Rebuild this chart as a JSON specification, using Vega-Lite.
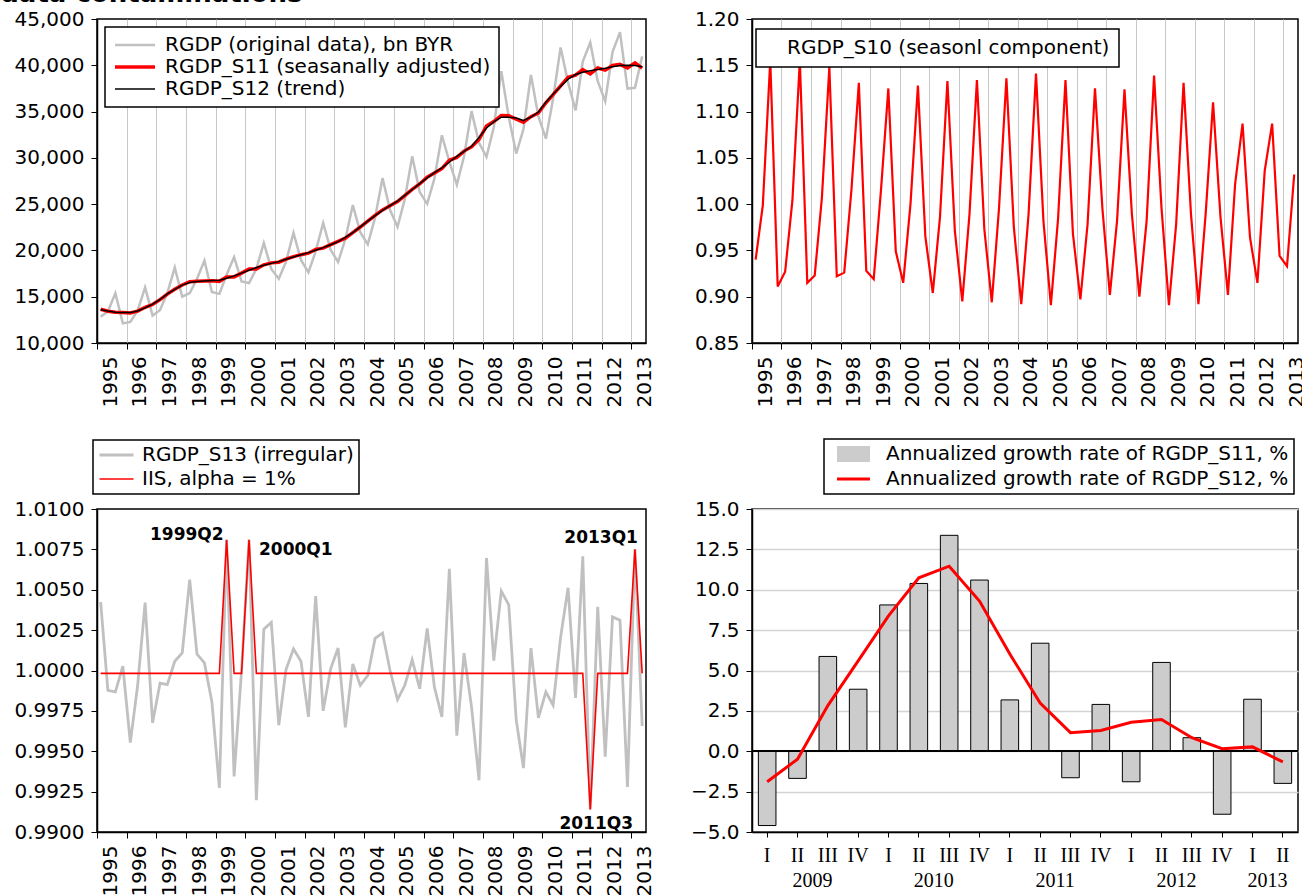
{
  "$schema": "https://vega.github.io/schema/vega-lite/v6.json",
  "background": "white",
  "padding": {"left": 0, "top": -19, "right": 0, "bottom": 0},
  "title": {"text": "data contaminations", "anchor": "start", "fontSize": 26, "fontWeight": "bold", "font": "DejaVu Sans", "color": "black", "offset": 1},
  "config": {
    "font": "DejaVu Sans",
    "view": {"stroke": "black", "strokeWidth": 1.5},
    "axis": {
      "labelFont": "DejaVu Sans", "labelFontSize": 20, "labelColor": "black",
      "domainColor": "black", "domainWidth": 1.5, "tickColor": "black", "tickWidth": 1,
      "tickSize": 6, "labelPadding": 7, "grid": false
    },
    "legend": {
      "labelFont": "DejaVu Sans", "labelFontSize": 20, "labelColor": "black", "labelLimit": 1000,
      "strokeColor": "black", "strokeWidth": 1.5, "fillColor": "white", "symbolType": "stroke"
    }
  },
  "datasets": {
    "q": [
      {"d":"1995-02-15T00:00:00","y":12829,"sa":13648,"tr":13590,"sf":0.940,"ir":1.00424,"iis":0.99982},
      {"d":"1995-05-15T00:00:00","y":13420,"sa":13433,"tr":13450,"sf":0.999,"ir":0.99877,"iis":0.99982},
      {"d":"1995-08-15T00:00:00","y":15375,"sa":13312,"tr":13330,"sf":1.155,"ir":0.99867,"iis":0.99982},
      {"d":"1995-11-15T00:00:00","y":12120,"sa":13304,"tr":13300,"sf":0.911,"ir":1.00027,"iis":0.99982},
      {"d":"1996-02-15T00:00:00","y":12274,"sa":13241,"tr":13300,"sf":0.927,"ir":0.99553,"iis":0.99982},
      {"d":"1996-05-15T00:00:00","y":13492,"sa":13438,"tr":13450,"sf":1.004,"ir":0.99908,"iis":0.99982},
      {"d":"1996-08-15T00:00:00","y":16006,"sa":13858,"tr":13800,"sf":1.155,"ir":1.00420,"iis":0.99982},
      {"d":"1996-11-15T00:00:00","y":12951,"sa":14154,"tr":14200,"sf":0.915,"ir":0.99676,"iis":0.99982},
      {"d":"1997-02-15T00:00:00","y":13558,"sa":14689,"tr":14700,"sf":0.923,"ir":0.99922,"iis":0.99982},
      {"d":"1997-05-15T00:00:00","y":15394,"sa":15287,"tr":15300,"sf":1.007,"ir":0.99912,"iis":0.99982},
      {"d":"1997-08-15T00:00:00","y":18149,"sa":15809,"tr":15800,"sf":1.148,"ir":1.00057,"iis":0.99982},
      {"d":"1997-11-15T00:00:00","y":14999,"sa":16268,"tr":16250,"sf":0.922,"ir":1.00109,"iis":0.99982},
      {"d":"1998-02-15T00:00:00","y":15393,"sa":16623,"tr":16530,"sf":0.926,"ir":1.00563,"iis":0.99982},
      {"d":"1998-05-15T00:00:00","y":16917,"sa":16667,"tr":16650,"sf":1.015,"ir":1.00102,"iis":0.99982},
      {"d":"1998-08-15T00:00:00","y":18897,"sa":16708,"tr":16700,"sf":1.131,"ir":1.00047,"iis":0.99982},
      {"d":"1998-11-15T00:00:00","y":15513,"sa":16717,"tr":16750,"sf":0.928,"ir":0.99805,"iis":0.99982},
      {"d":"1999-02-15T00:00:00","y":15309,"sa":16658,"tr":16780,"sf":0.919,"ir":0.99273,"iis":0.99982},
      {"d":"1999-05-15T00:00:00","y":17378,"sa":17138,"tr":17000,"sf":1.014,"ir":1.00810,"iis":1.00810},
      {"d":"1999-08-15T00:00:00","y":19279,"sa":17137,"tr":17250,"sf":1.125,"ir":0.99344,"iis":0.99982},
      {"d":"1999-11-15T00:00:00","y":16655,"sa":17550,"tr":17550,"sf":0.949,"ir":1.00000,"iis":0.99982},
      {"d":"2000-02-15T00:00:00","y":16474,"sa":18005,"tr":17860,"sf":0.915,"ir":1.00810,"iis":1.00810},
      {"d":"2000-05-15T00:00:00","y":18004,"sa":18004,"tr":18150,"sf":1.000,"ir":0.99197,"iis":0.99982},
      {"d":"2000-08-15T00:00:00","y":20808,"sa":18447,"tr":18400,"sf":1.128,"ir":1.00256,"iis":0.99982},
      {"d":"2000-11-15T00:00:00","y":18002,"sa":18655,"tr":18600,"sf":0.965,"ir":1.00297,"iis":0.99982},
      {"d":"2001-02-15T00:00:00","y":16929,"sa":18726,"tr":18790,"sf":0.904,"ir":0.99662,"iis":0.99982},
      {"d":"2001-05-15T00:00:00","y":18784,"sa":19051,"tr":19050,"sf":0.986,"ir":1.00006,"iis":0.99982},
      {"d":"2001-08-15T00:00:00","y":21896,"sa":19326,"tr":19300,"sf":1.133,"ir":1.00133,"iis":0.99982},
      {"d":"2001-11-15T00:00:00","y":18974,"sa":19541,"tr":19530,"sf":0.971,"ir":1.00057,"iis":0.99982},
      {"d":"2002-02-15T00:00:00","y":17634,"sa":19703,"tr":19760,"sf":0.895,"ir":0.99713,"iis":0.99982},
      {"d":"2002-05-15T00:00:00","y":19891,"sa":20112,"tr":20020,"sf":0.989,"ir":1.00461,"iis":0.99982},
      {"d":"2002-08-15T00:00:00","y":22962,"sa":20249,"tr":20300,"sf":1.134,"ir":0.99750,"iis":0.99982},
      {"d":"2002-11-15T00:00:00","y":20065,"sa":20622,"tr":20620,"sf":0.973,"ir":1.00010,"iis":0.99982},
      {"d":"2003-02-15T00:00:00","y":18755,"sa":20979,"tr":20950,"sf":0.894,"ir":1.00139,"iis":0.99982},
      {"d":"2003-05-15T00:00:00","y":21218,"sa":21325,"tr":21400,"sf":0.995,"ir":0.99648,"iis":0.99982},
      {"d":"2003-08-15T00:00:00","y":24911,"sa":21929,"tr":21920,"sf":1.136,"ir":1.00041,"iis":0.99982},
      {"d":"2003-11-15T00:00:00","y":21966,"sa":22529,"tr":22550,"sf":0.975,"ir":0.99908,"iis":0.99982},
      {"d":"2004-02-15T00:00:00","y":20661,"sa":23163,"tr":23170,"sf":0.892,"ir":0.99969,"iis":0.99982},
      {"d":"2004-05-15T00:00:00","y":23535,"sa":23797,"tr":23750,"sf":0.989,"ir":1.00199,"iis":0.99982},
      {"d":"2004-08-15T00:00:00","y":27813,"sa":24376,"tr":24320,"sf":1.141,"ir":1.00232,"iis":0.99982},
      {"d":"2004-11-15T00:00:00","y":24383,"sa":24830,"tr":24830,"sf":0.982,"ir":1.00000,"iis":0.99982},
      {"d":"2005-02-15T00:00:00","y":22528,"sa":25284,"tr":25330,"sf":0.891,"ir":0.99820,"iis":0.99982},
      {"d":"2005-05-15T00:00:00","y":25511,"sa":25926,"tr":25950,"sf":0.984,"ir":0.99908,"iis":0.99982},
      {"d":"2005-08-15T00:00:00","y":30162,"sa":26598,"tr":26580,"sf":1.134,"ir":1.00066,"iis":0.99982},
      {"d":"2005-11-15T00:00:00","y":26309,"sa":27179,"tr":27210,"sf":0.968,"ir":0.99887,"iis":0.99982},
      {"d":"2006-02-15T00:00:00","y":25037,"sa":27912,"tr":27840,"sf":0.897,"ir":1.00260,"iis":0.99982},
      {"d":"2006-05-15T00:00:00","y":27747,"sa":28371,"tr":28400,"sf":0.978,"ir":0.99898,"iis":0.99982},
      {"d":"2006-08-15T00:00:00","y":32442,"sa":28837,"tr":28920,"sf":1.125,"ir":0.99713,"iis":0.99982},
      {"d":"2006-11-15T00:00:00","y":29587,"sa":29736,"tr":29550,"sf":0.995,"ir":1.00629,"iis":0.99982},
      {"d":"2007-02-15T00:00:00","y":27103,"sa":30048,"tr":30170,"sf":0.902,"ir":0.99596,"iis":0.99982},
      {"d":"2007-05-15T00:00:00","y":30180,"sa":30733,"tr":30700,"sf":0.982,"ir":1.00107,"iis":0.99982},
      {"d":"2007-08-15T00:00:00","y":35046,"sa":31180,"tr":31250,"sf":1.124,"ir":0.99775,"iis":0.99982},
      {"d":"2007-11-15T00:00:00","y":31629,"sa":31981,"tr":32200,"sf":0.989,"ir":0.99320,"iis":0.99982},
      {"d":"2008-02-15T00:00:00","y":30107,"sa":33452,"tr":33220,"sf":0.900,"ir":1.00697,"iis":0.99982},
      {"d":"2008-05-15T00:00:00","y":33310,"sa":33921,"tr":33900,"sf":0.982,"ir":1.00061,"iis":0.99982},
      {"d":"2008-08-15T00:00:00","y":39374,"sa":34569,"tr":34400,"sf":1.139,"ir":1.00492,"iis":0.99982},
      {"d":"2008-11-15T00:00:00","y":34402,"sa":34540,"tr":34400,"sf":0.996,"ir":1.00406,"iis":0.99982},
      {"d":"2009-02-15T00:00:00","y":30468,"sa":34195,"tr":34300,"sf":0.891,"ir":0.99693,"iis":0.99982},
      {"d":"2009-05-15T00:00:00","y":33099,"sa":33844,"tr":34050,"sf":0.978,"ir":0.99396,"iis":0.99982},
      {"d":"2009-08-15T00:00:00","y":38961,"sa":34448,"tr":34400,"sf":1.131,"ir":1.00139,"iis":0.99982},
      {"d":"2009-11-15T00:00:00","y":34465,"sa":34848,"tr":34950,"sf":0.989,"ir":0.99707,"iis":0.99982},
      {"d":"2010-02-15T00:00:00","y":32069,"sa":35952,"tr":36000,"sf":0.892,"ir":0.99867,"iis":0.99982},
      {"d":"2010-05-15T00:00:00","y":36416,"sa":36821,"tr":36900,"sf":0.989,"ir":0.99785,"iis":0.99982},
      {"d":"2010-08-15T00:00:00","y":41932,"sa":37777,"tr":37700,"sf":1.110,"ir":1.00205,"iis":0.99982},
      {"d":"2010-11-15T00:00:00","y":38155,"sa":38697,"tr":38500,"sf":0.986,"ir":1.00512,"iis":0.99982},
      {"d":"2011-02-15T00:00:00","y":35118,"sa":38934,"tr":39000,"sf":0.902,"ir":0.99830,"iis":0.99982},
      {"d":"2011-05-15T00:00:00","y":40397,"sa":39527,"tr":39250,"sf":1.022,"ir":1.00707,"iis":0.99982},
      {"d":"2011-08-15T00:00:00","y":42459,"sa":39061,"tr":39400,"sf":1.087,"ir":0.99140,"iis":0.99140},
      {"d":"2011-11-15T00:00:00","y":38277,"sa":39706,"tr":39550,"sf":0.964,"ir":1.00395,"iis":0.99982},
      {"d":"2012-02-15T00:00:00","y":36122,"sa":39478,"tr":39690,"sf":0.915,"ir":0.99467,"iis":0.99982},
      {"d":"2012-05-15T00:00:00","y":41421,"sa":39982,"tr":39850,"sf":1.036,"ir":1.00332,"iis":0.99982},
      {"d":"2012-08-15T00:00:00","y":43582,"sa":40094,"tr":39970,"sf":1.087,"ir":1.00311,"iis":0.99982},
      {"d":"2012-11-15T00:00:00","y":37488,"sa":39712,"tr":40000,"sf":0.944,"ir":0.99279,"iis":0.99982},
      {"d":"2013-02-15T00:00:00","y":37572,"sa":40270,"tr":39970,"sf":0.933,"ir":1.00750,"iis":1.00750},
      {"d":"2013-05-15T00:00:00","y":40963,"sa":39693,"tr":39830,"sf":1.032,"ir":0.99656,"iis":0.99982}
    ],
    "ann": [
      {"d":"1999-05-15T00:00:00","v":1.0081,"t":"1999Q2"},
      {"d":"2000-02-15T00:00:00","v":1.0081,"t":"2000Q1"},
      {"d":"2011-08-15T00:00:00","v":0.9914,"t":"2011Q3"},
      {"d":"2013-02-15T00:00:00","v":1.0075,"t":"2013Q1"}
    ],
    "g": [
      {"q":"2009Q1","b":-4.60,"l":-1.89},
      {"q":"2009Q2","b":-1.68,"l":-0.49},
      {"q":"2009Q3","b":5.87,"l":2.83},
      {"q":"2009Q4","b":3.84,"l":5.60},
      {"q":"2010Q1","b":9.06,"l":8.38},
      {"q":"2010Q2","b":10.39,"l":10.74},
      {"q":"2010Q3","b":13.37,"l":11.46},
      {"q":"2010Q4","b":10.60,"l":9.30},
      {"q":"2011Q1","b":3.18,"l":6.02},
      {"q":"2011Q2","b":6.69,"l":2.98},
      {"q":"2011Q3","b":-1.64,"l":1.15},
      {"q":"2011Q4","b":2.90,"l":1.29},
      {"q":"2012Q1","b":-1.89,"l":1.79},
      {"q":"2012Q2","b":5.50,"l":1.97},
      {"q":"2012Q3","b":0.84,"l":0.84},
      {"q":"2012Q4","b":-3.90,"l":0.16},
      {"q":"2013Q1","b":3.22,"l":0.27},
      {"q":"2013Q2","b":-1.99,"l":-0.66}
    ]
  },
  "columns": 2,
  "spacing": {"row": 166, "column": 106},
  "bounds": "flush",
  "resolve": {
    "scale": {"color": "independent", "strokeWidth": "independent"},
    "legend": {"color": "independent", "strokeWidth": "independent"}
  },
  "concat": [
    {
      "width": 549, "height": 324,
      "data": {"name": "q"},
      "transform": [{"fold": ["y", "sa", "tr"], "as": ["k", "v"]}],
      "mark": {"type": "line"},
      "encoding": {
        "x": {"field": "d", "type": "temporal", "title": null,
          "scale": {"domain": [{"year": 1995, "month": 1, "date": 1}, {"year": 2013, "month": 7, "date": 1}], "nice": false},
          "axis": {"tickCount": {"interval": "year", "step": 1}, "format": "%Y", "labelAngle": 270, "labelOffset": 13, "labelFlush": false, "labelOverlap": false, "grid": true, "gridColor": "#c8c8c8", "gridWidth": 1}},
        "y": {"field": "v", "type": "quantitative", "title": null,
          "scale": {"domain": [10000, 45000], "nice": false, "zero": false},
          "axis": {"values": [10000, 15000, 20000, 25000, 30000, 35000, 40000, 45000], "format": ",d", "minExtent": 96}},
        "color": {"field": "k", "type": "nominal",
          "scale": {"domain": ["y", "sa", "tr"], "range": ["#c0c0c0", "#ff0000", "#000000"]},
          "legend": {"title": null, "orient": "top-left", "offset": 8, "padding": 8, "rowPadding": 2, "clipHeight": 20, "symbolSize": 1600, "labelOffset": 8,
            "labelExpr": "datum.value === 'y' ? 'RGDP (original data), bn BYR' : (datum.value === 'sa' ? 'RGDP_S11 (seasanally adjusted)' : 'RGDP_S12 (trend)')"}},
        "strokeWidth": {"field": "k", "type": "nominal",
          "scale": {"type": "ordinal", "domain": ["y", "sa", "tr"], "range": [2.5, 3.5, 1.5]},
          "legend": {"title": null, "orient": "top-left", "offset": 8, "padding": 8, "rowPadding": 2, "clipHeight": 20, "symbolSize": 1600, "labelOffset": 8,
            "labelExpr": "datum.value === 'y' ? 'RGDP (original data), bn BYR' : (datum.value === 'sa' ? 'RGDP_S11 (seasanally adjusted)' : 'RGDP_S12 (trend)')"}}
      }
    },
    {
      "width": 546, "height": 324,
      "data": {"name": "q"},
      "mark": {"type": "line", "strokeWidth": 2.2},
      "encoding": {
        "x": {"field": "d", "type": "temporal", "title": null,
          "scale": {"domain": [{"year": 1995, "month": 1, "date": 1}, {"year": 2013, "month": 7, "date": 1}], "nice": false},
          "axis": {"tickCount": {"interval": "year", "step": 1}, "format": "%Y", "labelAngle": 270, "labelOffset": 13, "labelFlush": false, "labelOverlap": false, "grid": true, "gridColor": "#c8c8c8", "gridWidth": 1}},
        "y": {"field": "sf", "type": "quantitative", "title": null,
          "scale": {"domain": [0.85, 1.2], "nice": false, "zero": false},
          "axis": {"values": [0.85, 0.9, 0.95, 1.0, 1.05, 1.1, 1.15, 1.2], "format": ".2f"}},
        "color": {"datum": "RGDP_S10 (seasonl component)", "type": "nominal",
          "scale": {"domain": ["RGDP_S10 (seasonl component)"], "range": ["#ff0000"]},
          "legend": {"title": null, "orient": "none", "legendX": 4, "legendY": 10, "padding": 9, "symbolSize": 0, "symbolOpacity": 0, "labelOffset": 2}}
      }
    },
    {
      "width": 549, "height": 323,
      "layer": [
        {
          "data": {"name": "q"},
          "transform": [{"fold": ["ir", "iis"], "as": ["k", "v"]}],
          "mark": {"type": "line"},
          "encoding": {
            "x": {"field": "d", "type": "temporal", "title": null,
              "scale": {"domain": [{"year": 1995, "month": 1, "date": 1}, {"year": 2013, "month": 7, "date": 1}], "nice": false},
              "axis": {"tickCount": {"interval": "year", "step": 1}, "format": "%Y", "labelAngle": 270, "labelOffset": 13, "labelFlush": false, "labelOverlap": false, "grid": false}},
            "y": {"field": "v", "type": "quantitative", "title": null,
              "scale": {"domain": [0.99, 1.01], "nice": false, "zero": false},
              "axis": {"values": [0.99, 0.9925, 0.995, 0.9975, 1.0, 1.0025, 1.005, 1.0075, 1.01], "format": ".4f", "minExtent": 96}},
            "color": {"field": "k", "type": "nominal",
              "scale": {"domain": ["ir", "iis"], "range": ["#c0c0c0", "#ff0000"]},
              "legend": {"title": null, "orient": "none", "legendX": -4, "legendY": -69, "padding": 5, "rowPadding": 4, "clipHeight": 20, "symbolSize": 1156, "labelOffset": 7,
                "labelExpr": "datum.value === 'ir' ? 'RGDP_S13 (irregular)' : 'IIS, alpha = 1%'"}},
            "strokeWidth": {"field": "k", "type": "nominal",
              "scale": {"type": "ordinal", "domain": ["ir", "iis"], "range": [2.8, 1.6]},
              "legend": {"title": null, "orient": "none", "legendX": -4, "legendY": -69, "padding": 5, "rowPadding": 4, "clipHeight": 20, "symbolSize": 1156, "labelOffset": 7,
                "labelExpr": "datum.value === 'ir' ? 'RGDP_S13 (irregular)' : 'IIS, alpha = 1%'"}}
          }
        },
        {
          "data": {"name": "ann"},
          "transform": [{"filter": "datum.t === '1999Q2'"}],
          "mark": {"type": "text", "align": "right", "baseline": "middle", "dx": -3, "dy": -5, "fontWeight": "bold", "fontSize": 17, "font": "DejaVu Sans", "color": "black"},
          "encoding": {"x": {"field": "d", "type": "temporal"}, "y": {"field": "v", "type": "quantitative", "title": null}, "text": {"field": "t"}}
        },
        {
          "data": {"name": "ann"},
          "transform": [{"filter": "datum.t === '2000Q1'"}],
          "mark": {"type": "text", "align": "left", "baseline": "middle", "dx": 10, "dy": 10, "fontWeight": "bold", "fontSize": 17, "font": "DejaVu Sans", "color": "black"},
          "encoding": {"x": {"field": "d", "type": "temporal"}, "y": {"field": "v", "type": "quantitative", "title": null}, "text": {"field": "t"}}
        },
        {
          "data": {"name": "ann"},
          "transform": [{"filter": "datum.t === '2013Q1'"}],
          "mark": {"type": "text", "align": "right", "baseline": "middle", "dx": 3, "dy": -11, "fontWeight": "bold", "fontSize": 17, "font": "DejaVu Sans", "color": "black"},
          "encoding": {"x": {"field": "d", "type": "temporal"}, "y": {"field": "v", "type": "quantitative", "title": null}, "text": {"field": "t"}}
        },
        {
          "data": {"name": "ann"},
          "transform": [{"filter": "datum.t === '2011Q3'"}],
          "mark": {"type": "text", "align": "center", "baseline": "middle", "dx": 6, "dy": 15, "fontWeight": "bold", "fontSize": 17, "font": "DejaVu Sans", "color": "black"},
          "encoding": {"x": {"field": "d", "type": "temporal"}, "y": {"field": "v", "type": "quantitative", "title": null}, "text": {"field": "t"}}
        }
      ]
    },
    {
      "width": 546, "height": 323,
      "data": {"name": "g"},
      "layer": [
        {
          "mark": {"type": "bar", "strokeWidth": 1, "stroke": "black", "fill": "#cccccc"},
          "encoding": {
            "x": {"field": "q", "type": "ordinal", "title": null,
              "scale": {"paddingInner": 0.42, "paddingOuter": 0.21},
              "axis": {"labelLineHeight": 25, "labelBaseline": "top",
                "labelExpr": "slice(datum.value, 5) === '1' ? (datum.value === '2013Q1' ? ['I', '\u2800\u2800' + '2013'] : ['I', '']) : (slice(datum.value, 5) === '2' ? (datum.value === '2013Q2' ? ['II', ''] : ['II', '\u2800\u2800' + slice(datum.value, 0, 4)]) : (slice(datum.value, 5) === '3' ? ['III', ''] : ['IV', '']))",
                "labelFont": "Liberation Serif", "labelFontSize": 20, "labelAngle": 0, "tickSize": 5, "labelPadding": 8}},
            "y": {"field": "b", "type": "quantitative", "title": null,
              "scale": {"domain": [-5, 15], "nice": false},
              "axis": {"values": [-5, -2.5, 0, 2.5, 5, 7.5, 10, 12.5, 15], "format": ".1f", "grid": true, "gridColor": "#d4d4d4", "gridWidth": 1.5}}
          }
        },
        {
          "mark": {"type": "rule", "color": "black", "strokeWidth": 1},
          "encoding": {"y": {"datum": 0, "type": "quantitative", "title": null}}
        },
        {
          "transform": [{"fold": ["l"], "as": ["k", "v"]}],
          "mark": {"type": "line"},
          "encoding": {
            "x": {"field": "q", "type": "ordinal", "title": null},
            "y": {"field": "v", "type": "quantitative", "title": null},
            "color": {"field": "k", "type": "nominal",
              "scale": {"domain": ["b", "l"], "range": ["#cccccc", "#ff0000"]},
              "legend": {"title": null, "orient": "none", "legendX": 72, "legendY": -70, "padding": 5, "rowPadding": 5, "clipHeight": 20, "symbolSize": 1089, "labelOffset": 8,
                "labelExpr": "datum.value === 'b' ? 'Annualized growth rate of RGDP_S11, %' : 'Annualized growth rate of RGDP_S12, %'"}},
            "strokeWidth": {"field": "k", "type": "nominal",
              "scale": {"type": "ordinal", "domain": ["b", "l"], "range": [16, 3]},
              "legend": {"title": null, "orient": "none", "legendX": 72, "legendY": -70, "padding": 5, "rowPadding": 5, "clipHeight": 20, "symbolSize": 1089, "labelOffset": 8,
                "labelExpr": "datum.value === 'b' ? 'Annualized growth rate of RGDP_S11, %' : 'Annualized growth rate of RGDP_S12, %'"}}
          }
        }
      ]
    }
  ]
}
